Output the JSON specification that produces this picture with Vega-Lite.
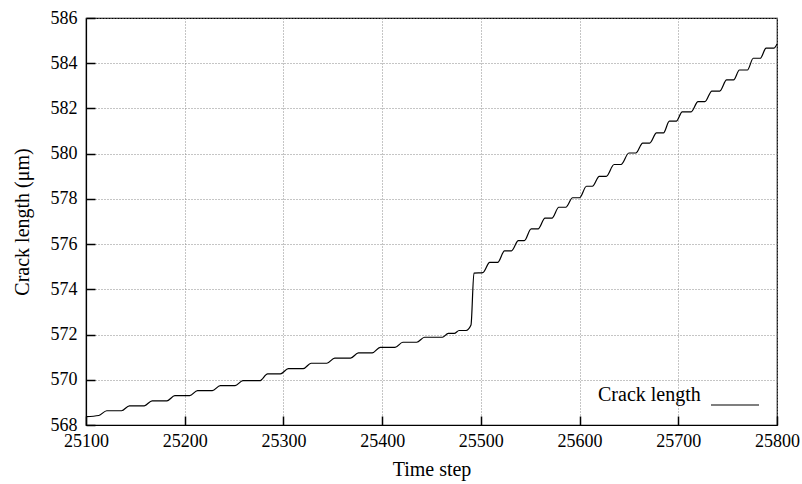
{
  "$schema": "https://vega.github.io/schema/vega-lite/v6.json",
  "autosize": {"type": "none"},
  "width": 691,
  "height": 407,
  "padding": {"left": 86, "top": 18, "right": 25, "bottom": 59},
  "background": "white",
  "config": {
    "view": {"stroke": "black", "strokeWidth": 1.2},
    "font": "Liberation Serif",
    "axis": {
      "labelFont": "Liberation Serif",
      "labelFontSize": 18,
      "labelColor": "black",
      "titleFont": "Liberation Serif",
      "titleFontSize": 20,
      "titleFontWeight": "normal",
      "titleColor": "black",
      "domainColor": "black",
      "domainWidth": 1.2,
      "gridColor": "#8a8a8a",
      "gridDash": [1, 2],
      "gridWidth": 1,
      "labelFlush": false,
      "labelOverlap": false
    }
  },
  "data": {
    "values": [
      {"t": 25100, "v": 568.37}, {"t": 25113, "v": 568.42}, {"t": 25121, "v": 568.63}, {"t": 25136, "v": 568.63},
      {"t": 25144, "v": 568.85}, {"t": 25159, "v": 568.85}, {"t": 25167, "v": 569.07}, {"t": 25182, "v": 569.07},
      {"t": 25190, "v": 569.30}, {"t": 25205, "v": 569.30}, {"t": 25213, "v": 569.52}, {"t": 25228, "v": 569.52},
      {"t": 25236, "v": 569.74}, {"t": 25251, "v": 569.74}, {"t": 25259, "v": 569.96}, {"t": 25276, "v": 569.96},
      {"t": 25284, "v": 570.26}, {"t": 25297, "v": 570.26}, {"t": 25305, "v": 570.49}, {"t": 25320, "v": 570.49},
      {"t": 25328, "v": 570.73}, {"t": 25344, "v": 570.73}, {"t": 25352, "v": 570.96}, {"t": 25368, "v": 570.96},
      {"t": 25376, "v": 571.19}, {"t": 25390, "v": 571.19}, {"t": 25398, "v": 571.43}, {"t": 25413, "v": 571.43},
      {"t": 25421, "v": 571.66}, {"t": 25435, "v": 571.66}, {"t": 25443, "v": 571.88}, {"t": 25461, "v": 571.88},
      {"t": 25467, "v": 572.05}, {"t": 25473, "v": 572.05}, {"t": 25478, "v": 572.18}, {"t": 25485, "v": 572.18},
      {"t": 25490, "v": 572.42}, {"t": 25493, "v": 574.72},
      {"t": 25502, "v": 574.74}, {"t": 25509, "v": 575.19}, {"t": 25517, "v": 575.19}, {"t": 25524, "v": 575.70},
      {"t": 25531, "v": 575.70}, {"t": 25538, "v": 576.15}, {"t": 25544, "v": 576.15}, {"t": 25551, "v": 576.67},
      {"t": 25558, "v": 576.67}, {"t": 25565, "v": 577.15}, {"t": 25572, "v": 577.15}, {"t": 25579, "v": 577.63},
      {"t": 25586, "v": 577.63}, {"t": 25593, "v": 578.05}, {"t": 25600, "v": 578.05}, {"t": 25607, "v": 578.56},
      {"t": 25613, "v": 578.56}, {"t": 25620, "v": 579.00}, {"t": 25627, "v": 579.00}, {"t": 25635, "v": 579.52},
      {"t": 25642, "v": 579.52}, {"t": 25650, "v": 580.03}, {"t": 25657, "v": 580.03}, {"t": 25664, "v": 580.47},
      {"t": 25671, "v": 580.47}, {"t": 25678, "v": 580.92}, {"t": 25685, "v": 580.92}, {"t": 25691, "v": 581.44},
      {"t": 25698, "v": 581.44}, {"t": 25704, "v": 581.85}, {"t": 25713, "v": 581.85}, {"t": 25720, "v": 582.30},
      {"t": 25727, "v": 582.30}, {"t": 25734, "v": 582.77}, {"t": 25742, "v": 582.77}, {"t": 25749, "v": 583.26},
      {"t": 25756, "v": 583.26}, {"t": 25762, "v": 583.70}, {"t": 25770, "v": 583.70}, {"t": 25776, "v": 584.22},
      {"t": 25783, "v": 584.22}, {"t": 25789, "v": 584.67}, {"t": 25797, "v": 584.67}, {"t": 25800, "v": 584.85}
    ]
  },
  "layer": [
    {
      "mark": {"type": "line", "interpolate": "monotone", "strokeWidth": 1.2, "clip": true},
      "encoding": {
        "x": {
          "field": "t",
          "type": "quantitative",
          "scale": {"domain": [25100, 25800], "nice": false, "zero": false},
          "axis": {
            "orient": "bottom",
            "title": "Time step",
            "values": [25100, 25200, 25300, 25400, 25500, 25600, 25700, 25800],
            "format": "d",
            "ticks": false,
            "labelPadding": 7,
            "titleBaseline": "alphabetic",
            "titleY": 50
          }
        },
        "y": {
          "field": "v",
          "type": "quantitative",
          "scale": {"domain": [568, 586], "nice": false, "zero": false},
          "axis": {
            "orient": "left",
            "title": "Crack length (μm)",
            "values": [568, 570, 572, 574, 576, 578, 580, 582, 584, 586],
            "format": "d",
            "ticks": false,
            "labelPadding": 9,
            "titleBaseline": "alphabetic",
            "titleX": -58
          }
        },
        "color": {
          "datum": "Crack length",
          "scale": {"range": ["black"]},
          "legend": {
            "orient": "bottom-right",
            "offset": 15,
            "title": "Crack length",
            "titleOrient": "left",
            "titleFont": "Liberation Serif",
            "titleFontSize": 20,
            "titleFontWeight": "normal",
            "titleColor": "black",
            "titlePadding": 9,
            "titleBaseline": "middle",
            "symbolType": "stroke",
            "symbolSize": 2304,
            "symbolStrokeWidth": 1.2,
            "symbolStrokeColor": "black",
            "labelExpr": "''",
            "labelOffset": 0
          }
        }
      }
    },
    {
      "mark": {"type": "line", "strokeOpacity": 0},
      "encoding": {
        "x": {
          "field": "t",
          "type": "quantitative",
          "axis": {
            "orient": "top",
            "offset": -407,
            "title": null,
            "values": [25100, 25200, 25300, 25400, 25500, 25600, 25700, 25800],
            "labels": false,
            "domain": false,
            "grid": false,
            "ticks": true,
            "tickSize": 9,
            "tickColor": "black",
            "tickWidth": 1.5,
            "tickOpacity": 1
          }
        },
        "y": {
          "field": "v",
          "type": "quantitative",
          "axis": {
            "orient": "right",
            "offset": -691,
            "title": null,
            "values": [568, 570, 572, 574, 576, 578, 580, 582, 584, 586],
            "labels": false,
            "domain": false,
            "grid": false,
            "ticks": true,
            "tickSize": 9,
            "tickColor": "black",
            "tickWidth": 1.5,
            "tickOpacity": 1
          }
        }
      }
    }
  ]
}
